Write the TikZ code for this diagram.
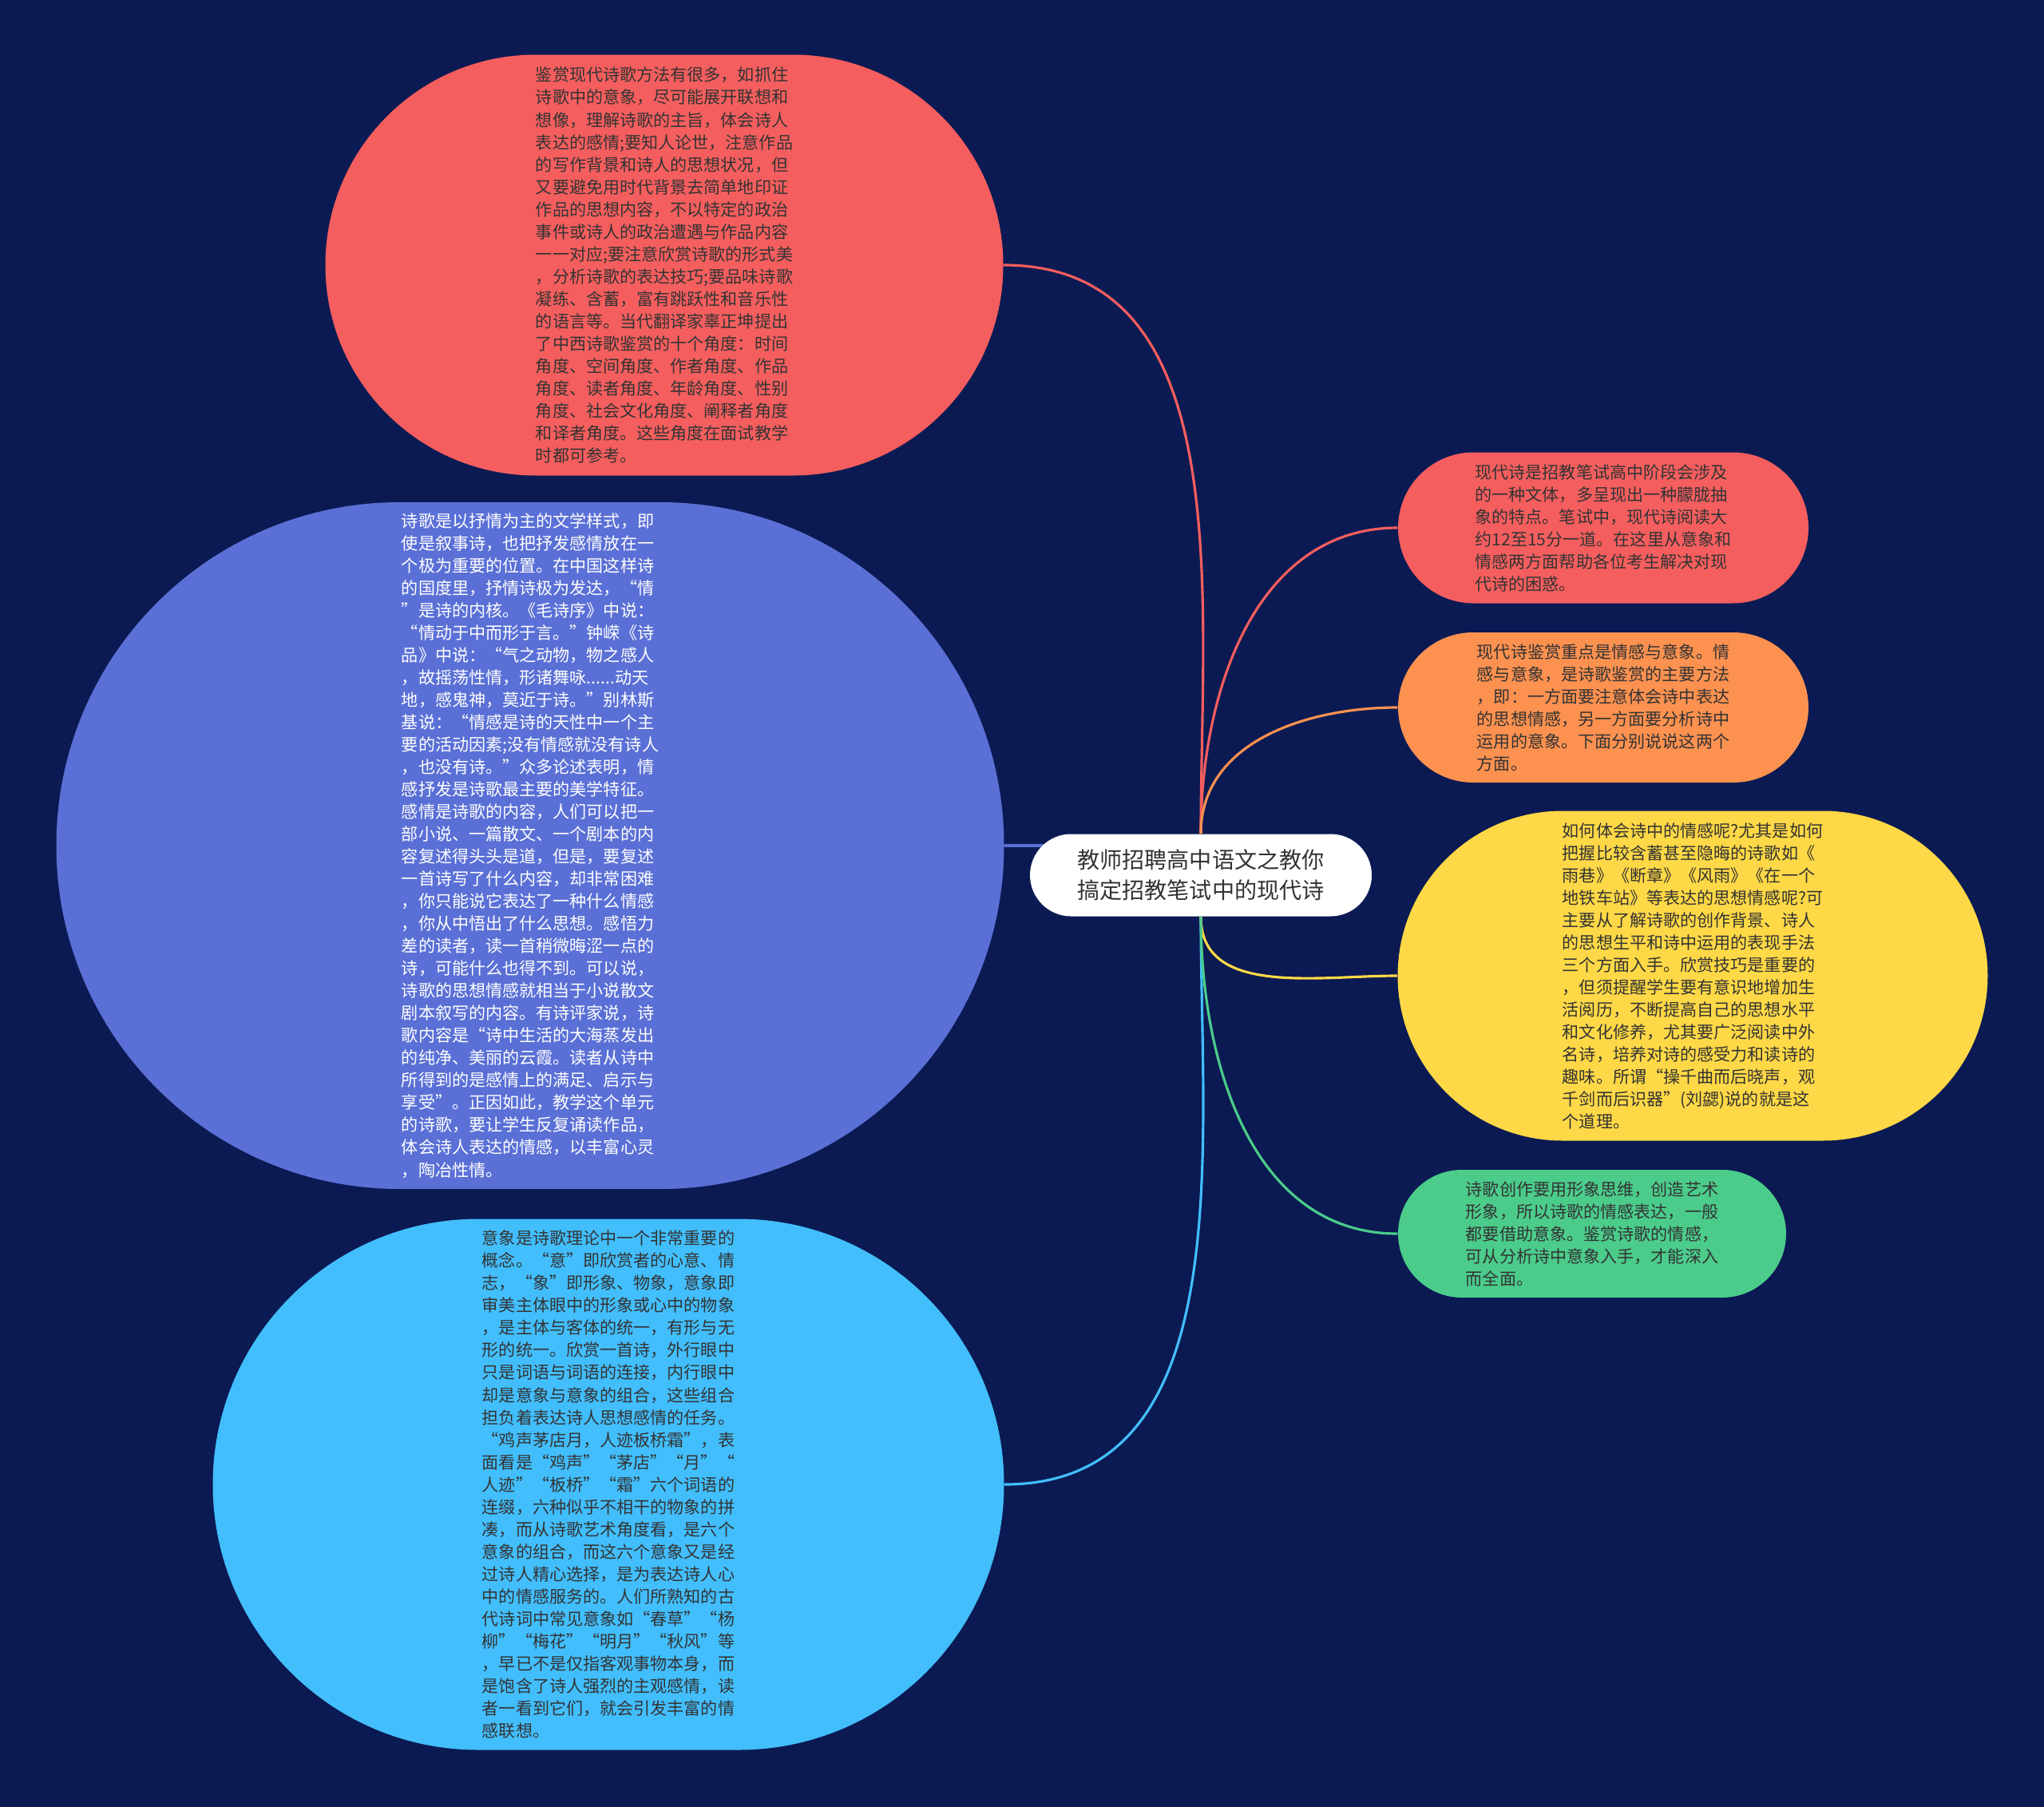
\documentclass[tikz,border=0pt]{standalone}
\usepackage{fontspec}
\setmainfont{Noto Sans CJK SC}
\usepackage{xcolor}
\usetikzlibrary{positioning}

\definecolor{bgnavy}{HTML}{0B1A52}
\definecolor{leafred}{HTML}{F55E5E}
\definecolor{leafblue}{HTML}{5A70D6}
\definecolor{leafsky}{HTML}{42BEFC}
\definecolor{leaforange}{HTML}{FC9150}
\definecolor{leafyellow}{HTML}{FED846}
\definecolor{leafgreen}{HTML}{4BCC8B}
\definecolor{txtdark}{HTML}{333333}

\pgfdeclarelayer{back}
\pgfsetlayers{back,main}

\begin{document}
\begin{tikzpicture}[
			leaf/.style={
				rectangle,
				align=left,
				inner sep=0pt,
				text=txtdark,
				font=\fontsize{6}{7.97}\selectfont
			},
			topic/.style={
				rectangle,
				align=center,
				inner sep=0pt,
				fill=white,
				text=txtdark,
				font=\fontsize{8}{10.7}\selectfont
			},
			link/.style={line width=0.9pt}
			]
			
			\useasboundingbox (0,0) rectangle (25.6,-22.63);
			
			% Central topic
			\node[topic, minimum width=4.28cm, minimum height=1.03cm, rounded corners=0.515cm] (root) at (15.04,-10.96) {教师招聘高中语文之教你\\搞定招教笔试中的现代诗};
			
			% Left column: long explanations
			\node[leaf, fill=leafred, minimum width=8.49cm, minimum height=5.27cm, rounded corners=2.635cm] (jianshang) at (8.32,-3.32) {鉴赏现代诗歌方法有很多，如抓住\\诗歌中的意象，尽可能展开联想和\\想像，理解诗歌的主旨，体会诗人\\表达的感情;要知人论世，注意作品\\的写作背景和诗人的思想状况，但\\又要避免用时代背景去简单地印证\\作品的思想内容，不以特定的政治\\事件或诗人的政治遭遇与作品内容\\一一对应;要注意欣赏诗歌的形式美\\，分析诗歌的表达技巧;要品味诗歌\\凝练、含蓄，富有跳跃性和音乐性\\的语言等。当代翻译家辜正坤提出\\了中西诗歌鉴赏的十个角度：时间\\角度、空间角度、作者角度、作品\\角度、读者角度、年龄角度、性别\\角度、社会文化角度、阐释者角度\\和译者角度。这些角度在面试教学\\时都可参考。};
			\node[leaf, fill=leafblue, text=white, minimum width=11.87cm, minimum height=8.6cm, rounded corners=4.3cm] (qinggan) at (6.64,-10.59) {诗歌是以抒情为主的文学样式，即\\使是叙事诗，也把抒发感情放在一\\个极为重要的位置。在中国这样诗\\的国度里，抒情诗极为发达，“情\\”是诗的内核。《毛诗序》中说：\\“情动于中而形于言。”钟嵘《诗\\品》中说：“气之动物，物之感人\\，故摇荡性情，形诸舞咏......动天\\地，感鬼神，莫近于诗。”别林斯\\基说：“情感是诗的天性中一个主\\要的活动因素;没有情感就没有诗人\\，也没有诗。”众多论述表明，情\\感抒发是诗歌最主要的美学特征。\\感情是诗歌的内容，人们可以把一\\部小说、一篇散文、一个剧本的内\\容复述得头头是道，但是，要复述\\一首诗写了什么内容，却非常困难\\，你只能说它表达了一种什么情感\\，你从中悟出了什么思想。感悟力\\差的读者，读一首稍微晦涩一点的\\诗，可能什么也得不到。可以说，\\诗歌的思想情感就相当于小说散文\\剧本叙写的内容。有诗评家说，诗\\歌内容是“诗中生活的大海蒸发出\\的纯净、美丽的云霞。读者从诗中\\所得到的是感情上的满足、启示与\\享受”。正因如此，教学这个单元\\的诗歌，要让学生反复诵读作品，\\体会诗人表达的情感，以丰富心灵\\，陶冶性情。};
			\node[leaf, fill=leafsky, minimum width=9.91cm, minimum height=6.65cm, rounded corners=3.325cm] (yixiang) at (7.62,-18.59) {意象是诗歌理论中一个非常重要的\\概念。“意”即欣赏者的心意、情\\志，“象”即形象、物象，意象即\\审美主体眼中的形象或心中的物象\\，是主体与客体的统一，有形与无\\形的统一。欣赏一首诗，外行眼中\\只是词语与词语的连接，内行眼中\\却是意象与意象的组合，这些组合\\担负着表达诗人思想感情的任务。\\“鸡声茅店月，人迹板桥霜”，表\\面看是“鸡声”“茅店”“月”“\\人迹”“板桥”“霜”六个词语的\\连缀，六种似乎不相干的物象的拼\\凑，而从诗歌艺术角度看，是六个\\意象的组合，而这六个意象又是经\\过诗人精心选择，是为表达诗人心\\中的情感服务的。人们所熟知的古\\代诗词中常见意象如“春草”“杨\\柳”“梅花”“明月”“秋风”等\\，早已不是仅指客观事物本身，而\\是饱含了诗人强烈的主观感情，读\\者一看到它们，就会引发丰富的情\\感联想。};
			
			% Right column: short notes
			\node[leaf, fill=leafred, minimum width=5.14cm, minimum height=1.89cm, rounded corners=0.945cm] (yinyan) at (20.08,-6.61) {现代诗是招教笔试高中阶段会涉及\\的一种文体，多呈现出一种朦胧抽\\象的特点。笔试中，现代诗阅读大\\约12至15分一道。在这里从意象和\\情感两方面帮助各位考生解决对现\\代诗的困惑。};
			\node[leaf, fill=leaforange, minimum width=5.14cm, minimum height=1.88cm, rounded corners=0.94cm] (zhongdian) at (20.08,-8.86) {现代诗鉴赏重点是情感与意象。情\\感与意象，是诗歌鉴赏的主要方法\\，即：一方面要注意体会诗中表达\\的思想情感，另一方面要分析诗中\\运用的意象。下面分别说说这两个\\方面。};
			\node[leaf, fill=leafyellow, minimum width=7.39cm, minimum height=4.13cm, rounded corners=2.065cm] (tihui) at (21.2,-12.22) {如何体会诗中的情感呢?尤其是如何\\把握比较含蓄甚至隐晦的诗歌如《\\雨巷》《断章》《风雨》《在一个\\地铁车站》等表达的思想情感呢?可\\主要从了解诗歌的创作背景、诗人\\的思想生平和诗中运用的表现手法\\三个方面入手。欣赏技巧是重要的\\，但须提醒学生要有意识地增加生\\活阅历，不断提高自己的思想水平\\和文化修养，尤其要广泛阅读中外\\名诗，培养对诗的感受力和读诗的\\趣味。所谓“操千曲而后晓声，观\\千剑而后识器”(刘勰)说的就是这\\个道理。};
			\node[leaf, fill=leafgreen, minimum width=4.86cm, minimum height=1.6cm, rounded corners=0.8cm] (siwei) at (19.94,-15.45) {诗歌创作要用形象思维，创造艺术\\形象，所以诗歌的情感表达，一般\\都要借助意象。鉴赏诗歌的情感，\\可从分析诗中意象入手，才能深入\\而全面。};
			
			% Background and connectors behind the nodes
			\begin{pgfonlayer}{back}
				\fill[bgnavy] (0,0) rectangle (25.6,-22.63);
				\draw[link, leafred] (root.north) to[out=90,in=0] (jianshang.east);
				\draw[link, leafblue] (qinggan.east) -- (qinggan.east -| root.center);
				\draw[link, leafsky] (root.south) to[out=-90,in=0] (yixiang.east);
				\draw[link, leafred] (root.north) to[out=90,in=180] (yinyan.west);
				\draw[link, leaforange] (root.north) to[out=90,in=180] (zhongdian.west);
				\draw[link, leafyellow] (root.south) to[out=-90,in=180] (tihui.west);
				\draw[link, leafgreen] (root.south) to[out=-90,in=180] (siwei.west);
			\end{pgfonlayer}
			
		\end{tikzpicture}
\end{document}
